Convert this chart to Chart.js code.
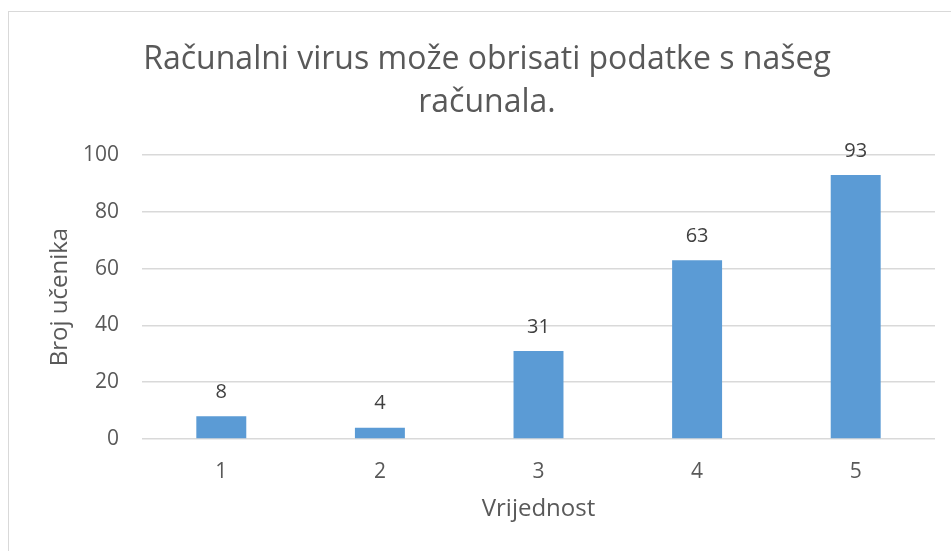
<!DOCTYPE html>
<html>
<head>
<meta charset="utf-8">
<script src="https://cdn.jsdelivr.net/npm/chart.js@4"></script>
<style>
  html, body { margin: 0; padding: 0; background: #fff; }
  #wrap { position: relative; width: 951px; height: 551px; overflow: hidden; }
  #frame { position: absolute; left: 8px; top: 11px; width: 1200px; height: 1200px; border: 1px solid #d9d9d9; }
  canvas { position: absolute; left: 0; top: 0; }
</style>
</head>
<body>
<div id="wrap">
  <div id="frame"></div>
  <canvas id="chart" width="951" height="551"></canvas>
</div>
<script>
// Chart data
const categories = ['1', '2', '3', '4', '5'];
const counts = [8, 4, 31, 63, 93];
const yTicks = [0, 20, 40, 60, 80, 100];

const titleLines = ['Računalni virus može obrisati podatke s našeg', 'računala.'];
const xTitle = 'Vrijednost';
const yTitle = 'Broj učenika';

const FONT = "'Open Sans', 'DejaVu Sans', sans-serif";
const textColor = '#595959';

// value labels above the bars
const valueLabels = {
    id: 'valueLabels',
    afterDatasetsDraw(chart) {
        const ctx = chart.ctx;
        const meta = chart.getDatasetMeta(0);
        ctx.save();
        ctx.font = '20px ' + FONT;
        ctx.fillStyle = '#404040';
        ctx.textAlign = 'center';
        ctx.textBaseline = 'middle';
        meta.data.forEach((bar, i) => {
            ctx.fillText(String(counts[i]), bar.x, bar.y - 24);
        });
        ctx.restore();
    }
};

const chart = new Chart(document.getElementById('chart'), {
    type: 'bar',
    data: {
        labels: categories,
        datasets: [{
            data: counts,
            backgroundColor: '#5b9bd5',
            borderWidth: 0,
            barPercentage: 0.315,
            categoryPercentage: 1
        }]
    },
    options: {
        responsive: false,
        animation: false,
        // left padding pushes the centred title to the right, like the original
        layout: { padding: { left: 39, right: 16, top: 0, bottom: 0 } },
        plugins: {
            legend: { display: false },
            tooltip: { enabled: false },
            title: {
                display: true,
                text: titleLines,
                color: textColor,
                font: { family: FONT, size: 32, weight: 'normal', lineHeight: 1.33 },
                padding: { top: 39, bottom: 31 }
            }
        },
        scales: {
            x: {
                grid: { display: false, drawTicks: false },
                border: { display: false },
                ticks: { color: textColor, font: { family: FONT, size: 21 }, padding: 20 },
                title: {
                    display: true,
                    text: xTitle,
                    color: textColor,
                    font: { family: FONT, size: 24 },
                    padding: { top: 0, bottom: 27 }
                },
                afterFit(scale) { scale.height = 112; }
            },
            y: {
                min: 0,
                max: 100,
                afterBuildTicks(scale) { scale.ticks = yTicks.map(v => ({ value: v })); },
                grid: { color: '#d9d9d9', lineWidth: 1.5, drawTicks: false },
                border: { display: false },
                ticks: { color: textColor, font: { family: FONT, size: 21 }, padding: 23 },
                title: {
                    display: true,
                    text: yTitle,
                    color: textColor,
                    font: { family: FONT, size: 24 },
                    padding: { top: 7, bottom: 0 }
                },
                afterFit(scale) { scale.width = 103; }
            }
        }
    },
    plugins: [valueLabels]
});
</script>
</body>
</html>
